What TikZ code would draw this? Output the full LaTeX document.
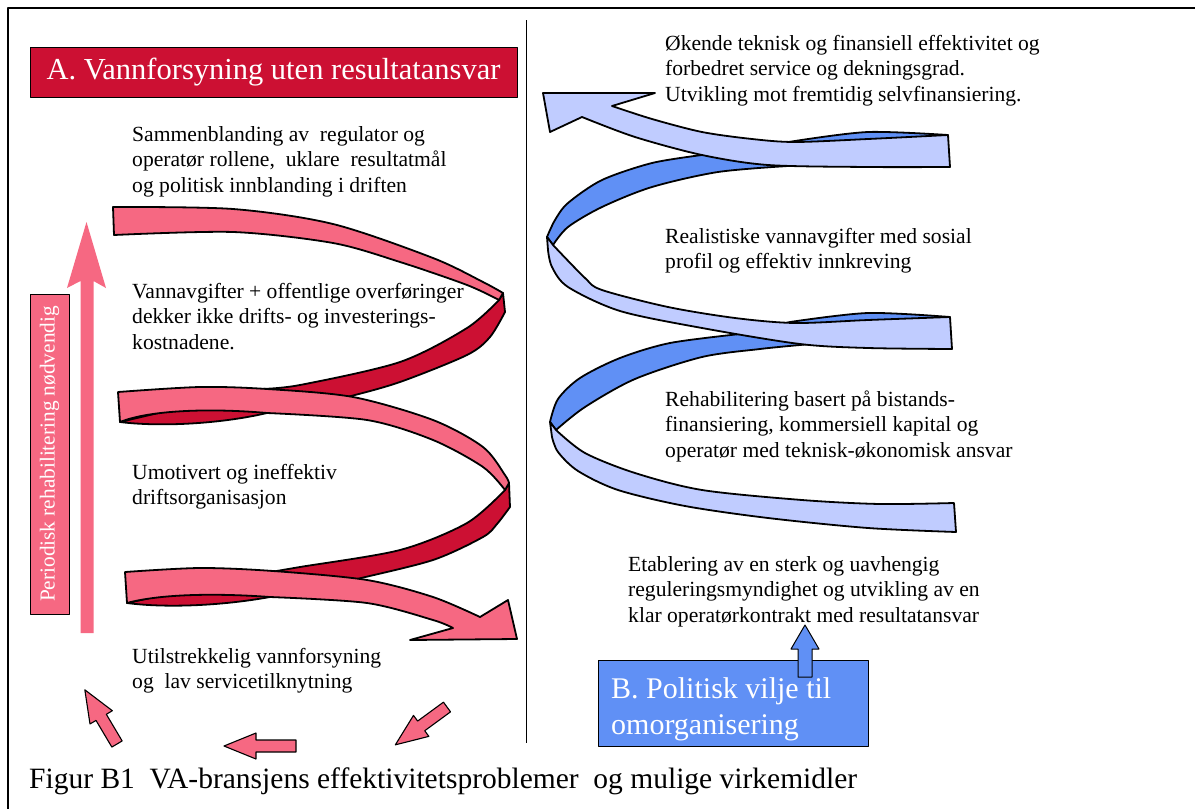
\documentclass[tikz,border=0pt]{standalone}
\usepackage{fontspec}
\setmainfont{Liberation Serif}
\definecolor{crim}{RGB}{204,16,51}
\definecolor{pinkr}{RGB}{246,104,130}
\definecolor{lblue}{RGB}{192,204,255}
\definecolor{cblue}{RGB}{96,144,245}
\newcommand\blkarrow[4]{\filldraw[blk, shift={(#1,#2)}, rotate=#3] (0,-6) -- (#4-32,-6) -- (#4-32,-13) -- (#4,0) -- (#4-32,13) -- (#4-32,6) -- (0,6) -- cycle;}
\begin{document}
\begin{tikzpicture}[x=1pt,y=-1pt,line join=round,
  band/.style={draw=black,line width=1.8pt},
  blk/.style={draw=black,line width=1.1pt,fill=pinkr},
  txt/.style={anchor=north west,inner sep=0pt,align=left,font=\fontsize{21.6}{25.5}\selectfont},
  ]
\useasboundingbox (0,0) rectangle (1195,809);
\fill[white] (0,0) rectangle (1195,809);
% frame and divider
\draw[line width=1.8pt] (8,809) -- (8,8) -- (1195,8);
\draw[line width=1pt] (526,20) -- (526,743);

% title A
\node[draw=black,line width=0.8pt,fill=crim,minimum width=487pt,minimum height=50pt,inner sep=0pt,
      text=white,font=\fontsize{30.5}{36}\selectfont] (A) at (273.5,72) {A. Vannforsyning uten resultatansvar};

% red spiral: back sides
\filldraw[band,fill=crim] (503,293) -- plot[smooth] coordinates {(505,312) (490,337) (467,355) (400,382) (347,397) (300,407) (267,413)}
  .. controls (220,424) and (160,427) .. (120,422) -- (260,389)
  -- plot[smooth] coordinates {(260,389) (300,385) (400,362) (467,328) (499,300)} -- cycle;
\filldraw[band,fill=crim] (509,483) -- plot[smooth] coordinates {(510,507) (497,524) (483,537) (433,560) (357,579) (310,590) (270,597)}
  .. controls (220,606) and (165,608) .. (127,603) -- (265,573)
  -- plot[smooth] coordinates {(265,573) (300,567) (400,550) (467,523) (505,490)} -- cycle;
% red spiral: front sides
\filldraw[band,fill=pinkr] (114,235) -- (113,207)
  -- plot[smooth] coordinates {(113,207) (233,209) (333,224) (433,258) (483,282) (503,293)} -- (499,300)
  -- plot[smooth] coordinates {(499,300) (467,285) (400,262) (333,243) (233,232) (114,235)} -- cycle;
\filldraw[band,fill=pinkr] (120,422) -- (118,392)
  -- plot[smooth] coordinates {(118,392) (200,387) (267,389) (353,397) (433,420) (483,447) (505,475) (509,483)} -- (505,490)
  -- plot[smooth] coordinates {(505,490) (483,467) (433,440) (367,420) (267,413)}
  .. controls (210,408) and (150,410) .. (120,422) -- cycle;
\filldraw[band,fill=pinkr] (127,603) -- (125,572)
  -- plot[smooth] coordinates {(125,572) (200,568) (273,571) (367,580) (433,597) (480,617)}
  -- (508,600) -- (517,639) -- (410,640) -- (453,628)
  -- plot[smooth] coordinates {(453,628) (433,620) (367,603) (270,597)}
  .. controls (215,593) and (160,594) .. (127,603) -- cycle;

% blue spiral: back sides
\filldraw[band,fill=cblue] (553,245) -- plot[smooth] coordinates {(553,245) (568,227) (602,207) (652,187) (718,172) (788,166)}
  -- (948,150) -- (948,135) -- plot[smooth] coordinates {(948,135) (868,132) (795,141)} -- (702,155)
  -- plot[smooth] coordinates {(702,155) (652,163) (602,180) (568,203) (555,220) (547,237)} -- cycle;
\filldraw[band,fill=cblue] (556,430) -- plot[smooth] coordinates {(556,430) (585,407) (635,379) (702,357) (760,349) (800,345)}
  -- (950,330) -- (950,317) -- plot[smooth] coordinates {(950,317) (868,313) (790,322)} -- (740,334)
  -- plot[smooth] coordinates {(740,334) (670,343) (620,358) (580,378) (558,399) (550,422)} -- cycle;
% blue spiral: front sides
\filldraw[band,fill=lblue] (655,93) -- (612,106)
  -- plot[smooth] coordinates {(612,106) (652,119) (702,132) (752,139) (795,142) (868,139) (948,135)} -- (950,167)
  -- plot[smooth] coordinates {(950,167) (868,167) (768,165) (702,155) (635,137) (582,117)}
  -- (550,132) -- (543,93) -- cycle;
\filldraw[band,fill=lblue] (547,237) -- (548,250)
  -- plot[smooth] coordinates {(548,250) (552,267) (568,287) (620,311) (702,328) (800,344) (868,348) (952,349)} -- (950,317)
  -- plot[smooth] coordinates {(950,317) (868,320) (795,323) (735,318) (668,307) (602,290) (585,278) (553,245)} -- cycle;
\filldraw[band,fill=lblue] (550,422) -- (552,437)
  -- plot[smooth] coordinates {(552,437) (558,452) (578,471) (618,490) (685,506) (768,518) (868,528) (956,532)} -- (954,503)
  -- plot[smooth] coordinates {(954,503) (880,504) (802,500) (702,490) (635,473) (585,453) (556,430)} -- cycle;

% periodic rehabilitation box and arrow
\node[draw=black,line width=0.8pt,fill=pinkr,minimum width=39pt,minimum height=320pt,inner sep=0pt] (P) at (49.5,454) {};
\node[rotate=90,text=white,inner sep=0pt,font=\fontsize{21.3}{26}\selectfont] (Ptext) at (P.center) {Periodisk rehabilitering nødvendig};
\fill[pinkr] (80.5,633) -- (80.5,281) -- (67,288) -- (86.5,222) -- (106,288) -- (93.5,281) -- (93.5,633) -- cycle;

% left texts
\node[txt] (t1) at (132,123) {\strut Sammenblanding av~ regulator og\\operatør rollene,~ uklare~ resultatmål\\og politisk innblanding i driften};
\node[txt] (t2) at (132,280) {\strut Vannavgifter + offentlige overføringer\\dekker ikke drifts- og investerings-\\kostnadene.};
\node[txt] (t3) at (132,461) {\strut Umotivert og ineffektiv\\driftsorganisasjon};
\node[txt] (t4) at (132,645) {\strut Utilstrekkelig vannforsyning\\og~ lav servicetilknytning};

% right texts
\node[txt] (r1) at (665,32) {\strut Økende teknisk og finansiell effektivitet og\\forbedret service og dekningsgrad.\\Utvikling mot fremtidig selvfinansiering.};
\node[txt] (r2) at (665,225) {\strut Realistiske vannavgifter med sosial\\profil og effektiv innkreving};
\node[txt] (r3) at (665,388) {\strut Rehabilitering basert på bistands-\\finansiering, kommersiell kapital og\\operatør med teknisk-økonomisk ansvar};
\node[txt] (r4) at (628,553) {\strut Etablering av en sterk og uavhengig\\reguleringsmyndighet og utvikling av en\\klar operatørkontrakt med resultatansvar};

% box B
\node[draw=black,line width=0.8pt,fill=cblue,minimum width=270pt,minimum height=86pt,inner sep=0pt] (B) at (733,703) {};
\node[txt,text=white,font=\fontsize{30}{36.5}\selectfont] (Btext) at (611,672.5) {\strut B. Politisk vilje til\\omorganisering};
\filldraw[draw=black,line width=1pt,fill=cblue] (798,677) -- (798,649) -- (791,649) -- (805,625) -- (819,649) -- (812,649) -- (812,677) -- cycle;

% bottom cycle arrows
\blkarrow{117}{744}{120.7}{63}
\blkarrow{296}{746}{180}{72}
\blkarrow{447}{707}{216.2}{64}

% caption
\node[anchor=base west,inner sep=0pt,font=\fontsize{29.5}{35}\selectfont] (cap) at (29,788) {Figur B1~ VA-bransjens effektivitetsproblemer~ og mulige virkemidler};
\end{tikzpicture}
\end{document}
